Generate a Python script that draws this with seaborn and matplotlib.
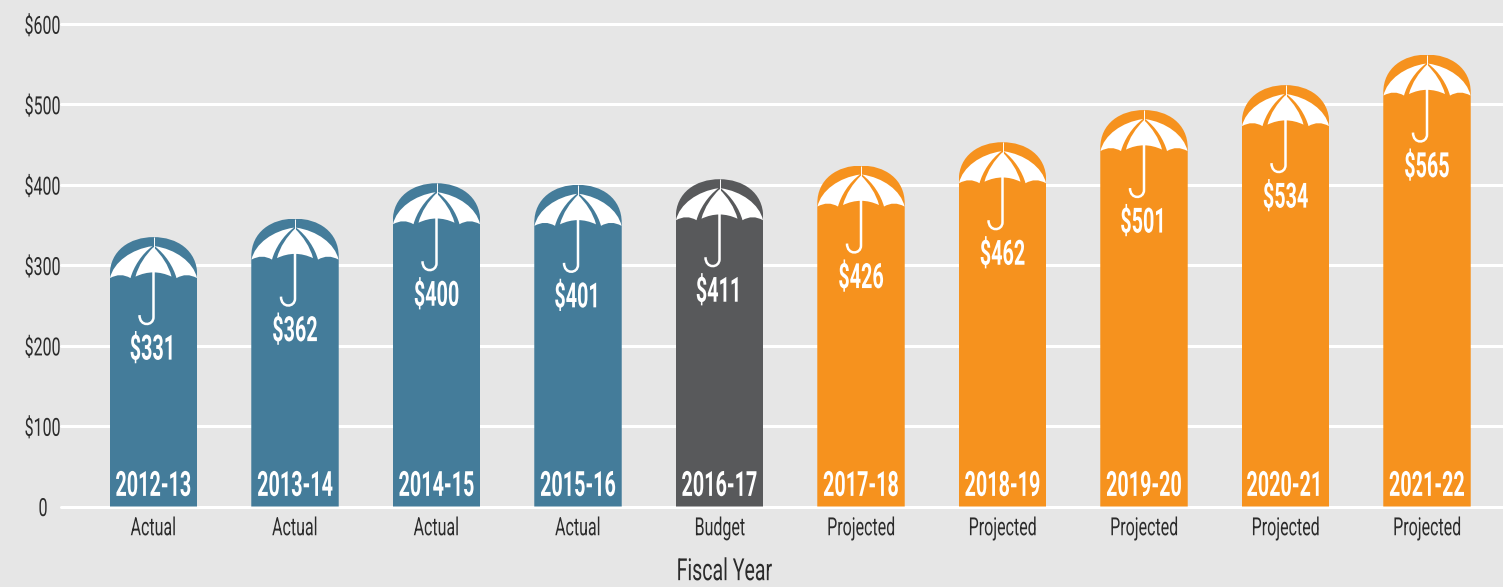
import matplotlib
matplotlib.use("Agg")
import matplotlib.pyplot as plt
import pandas as pd
import seaborn as sns
from matplotlib.patches import PathPatch
from matplotlib.patheffects import AbstractPathEffect
from matplotlib.path import Path
from matplotlib.transforms import Affine2D, ScaledTranslation

years = ["2012-13", "2013-14", "2014-15", "2015-16", "2016-17",
         "2017-18", "2018-19", "2019-20", "2020-21", "2021-22"]
status = ["Actual", "Actual", "Actual", "Actual", "Budget",
          "Projected", "Projected", "Projected", "Projected", "Projected"]
amounts = [331, 362, 400, 401, 411, 426, 462, 501, 534, 565]
bar_heights = [335, 358, 402, 400, 407, 424, 453, 493, 524, 562]
y_ticks = [0, 100, 200, 300, 400, 500, 600]
y_labels = ["0", "$100", "$200", "$300", "$400", "$500", "$600"]

BG = "#E6E6E6"
TXT = "#2B2B2B"
colors = {"Actual": "#447C9A", "Budget": "#58595B", "Projected": "#F6921E"}
W, H = 1503, 587
PX_X = 141.5  # px per category
PX_Y = 0.804  # px per dollar


class Squeeze(AbstractPathEffect):
    # no condensed font installed, so narrow the glyphs when they are drawn
    def __init__(self, fx, anchor=0.5):
        super().__init__()
        self.fx = fx
        self.anchor = anchor

    def draw_path(self, renderer, gc, tpath, affine, rgbFace=None):
        ext = tpath.get_extents()
        ref = ext.x0 + self.anchor * ext.width
        squeeze = Affine2D().translate(-ref, 0).scale(self.fx, 1).translate(ref, 0)
        renderer.draw_path(gc, tpath, squeeze + affine, rgbFace)


sns.set_theme(style="whitegrid")
plt.rcParams["font.family"] = ["Roboto", "DejaVu Sans"]

fig = plt.figure(figsize=(W / 100, H / 100), dpi=100, facecolor=BG)
ax = fig.add_axes([61 / W, 1 - 506.5 / H, 1 - 61 / W, (506.5 - 24) / H], facecolor=BG)

df = pd.DataFrame({"year": years, "height": bar_heights, "status": status})
sns.barplot(data=df, x="year", y="height", hue="status", palette=colors, dodge=False,
            width=0.618, legend=False, saturation=1, linewidth=0, ax=ax)

ax.set_xlim((61 - 153.5) / PX_X, (W - 153.5) / PX_X)
ax.set_ylim(0, 600)
ax.set_yticks(y_ticks)
ax.set_yticklabels(y_labels)
ax.set_xticks(range(len(years)))
ax.set_xticklabels(status)
ax.tick_params(axis="both", length=0, labelsize=18, labelcolor=TXT)
ax.tick_params(axis="x", pad=7)
ax.tick_params(axis="y", pad=0)
ax.set_ylabel("")
ax.set_xlabel("Fiscal Year", fontsize=22, color=TXT, path_effects=[Squeeze(0.64)])
ax.xaxis.set_label_coords((724 - 61) / (W - 61), -0.105)
sns.despine(ax=ax, left=True, bottom=True, right=True, top=True)

for label in ax.get_xticklabels():
    label.set_path_effects([Squeeze(0.64)])
for label in ax.get_yticklabels():
    label.set_path_effects([Squeeze(0.64, anchor=1)])

ax.grid(False, axis="x")
ax.grid(True, axis="y", color="white", lw=2.2)
ax.set_axisbelow(True)
for line in ax.get_ygridlines():
    line.set_clip_on(False)

# the 0 label sits further in than the others
zero = ax.get_yticklabels()[0]
zero.set_transform(zero.get_transform() + ScaledTranslation(-0.13, 0, fig.dpi_scale_trans))

# umbrella shapes in px, relative to the top centre of the bar, y going down
MOVE, LINE, C3, C4, END = Path.MOVETO, Path.LINETO, Path.CURVE3, Path.CURVE4, Path.CLOSEPOLY
left_panel = [(-1, 9), (-22, 12), (-40, 25), (-43.5, 41), (-33, 35), (-23, 41),
              (-20, 30), (-12, 17), (-1, 9), (-1, 9)]
left_codes = [MOVE, C4, C4, C4, C3, C3, C4, C4, C4, END]
mid_panel = [(0, 10), (-8, 18), (-15, 28), (-18, 39.5), (0, 31), (18, 39.5),
             (15, 28), (8, 18), (0, 10), (0, 10)]
right_panel = [(-x, y) for x, y in left_panel]
hook = [(0, 30), (0, 80), (0, 89), (-14, 90), (-14, 78)]
hook_codes = [MOVE, LINE, C4, C4, C4]

bars = sorted(ax.patches, key=lambda b: b.get_x())
for bar, year, amount in zip(bars, years, amounts):
    xc = bar.get_x() + bar.get_width() / 2
    top = bar.get_height()
    w = bar.get_width()
    dome = 38 / PX_Y
    # round the top of the bar
    shape = Path([(xc - w / 2, 0), (xc - w / 2, top - dome),
                  (xc - w / 2, top - dome * 0.35), (xc - w * 0.27, top), (xc, top),
                  (xc + w * 0.27, top), (xc + w / 2, top - dome * 0.35), (xc + w / 2, top - dome),
                  (xc + w / 2, 0), (xc - w / 2, 0)],
                 [MOVE, LINE, C4, C4, C4, C4, C4, C4, LINE, END])
    bar.set_clip_path(shape, transform=ax.transData)

    px = Affine2D().scale(1 / PX_X, -1 / PX_Y).translate(xc, top) + ax.transData
    for verts in [left_panel, mid_panel, right_panel]:
        ax.add_patch(PathPatch(Path(verts, left_codes), fc="white", ec="none", lw=0, transform=px, zorder=4))
    ax.add_patch(PathPatch(Path(hook, hook_codes), fc="none", ec="white", lw=1.8, transform=px, zorder=4))
    ax.add_patch(PathPatch(Path([(0, 0), (0, 12)]), fc="none", ec="white", lw=0.7, transform=px, zorder=4))

    ax.text(xc, top - 113 / PX_Y, f"${amount}", ha="center", va="center", color="white",
            fontsize=25, fontweight="bold", zorder=5, path_effects=[Squeeze(0.57)])
    ax.text(xc, 25, year, ha="center", va="center", color="white",
            fontsize=25, fontweight="bold", zorder=5, path_effects=[Squeeze(0.57)])

fig.savefig("out.png", dpi=100, facecolor=BG)
